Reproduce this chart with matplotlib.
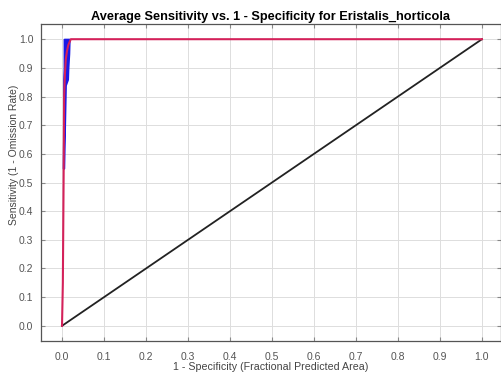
import matplotlib
matplotlib.use("Agg")
import matplotlib.pyplot as plt

# mean ROC curve (red)
mean_fpr = [0.0, 0.002, 0.004, 0.005, 0.007, 0.009, 0.012, 0.015, 0.021, 1.0]
mean_tpr = [0.0, 0.15, 0.55, 0.80, 0.88, 0.93, 0.96, 0.98, 1.0, 1.0]

# mean +/- one stddev band (blue)
band_tpr = [0.55, 0.70, 0.84, 0.86, 0.90, 0.95, 1.0]
band_left = [0.003, 0.004, 0.004, 0.004, 0.005, 0.005, 0.005]
band_right = [0.004, 0.006, 0.008, 0.013, 0.014, 0.016, 0.017]

# random prediction line
random_x = [0.0, 1.0]
random_y = [0.0, 1.0]

ticks = [0.0, 0.1, 0.2, 0.3, 0.4, 0.5, 0.6, 0.7, 0.8, 0.9, 1.0]

plt.rcParams["font.family"] = ["Liberation Sans", "DejaVu Sans"]

fig = plt.figure(figsize=(5.02, 3.74), dpi=100)
ax = fig.add_axes([0.0817, 0.0882, 0.916, 0.8476])

ax.fill_betweenx(band_tpr, band_left, band_right, color="#1a1ae6", linewidth=1.5,
                 edgecolor="#1a1ae6", zorder=2)
ax.plot(random_x, random_y, color="#222222", linewidth=1.3, zorder=3)
ax.plot(mean_fpr, mean_tpr, color="#d4215a", linewidth=1.5, zorder=4)

ax.set_xlim(-0.05, 1.045)
ax.set_ylim(-0.053, 1.053)
ax.set_xticks(ticks)
ax.set_yticks(ticks)
ax.set_xticklabels([f"{t:.1f}" for t in ticks])
ax.set_yticklabels([f"{t:.1f}" for t in ticks])
ax.tick_params(axis="both", labelsize=7.5, labelcolor="#555555", direction="in",
               length=3, color="#888888", top=True, right=True)
ax.tick_params(axis="x", pad=8)
ax.tick_params(axis="y", pad=5.5)
ax.grid(True, color="#dddddd", linewidth=0.7)
ax.set_axisbelow(True)
for spine in ax.spines.values():
    spine.set_color("#555555")
    spine.set_linewidth(0.9)

ax.set_title("Average Sensitivity vs. 1 - Specificity for Eristalis_horticola",
             fontsize=9.2, fontweight="bold", pad=3)
ax.set_xlabel("1 - Specificity (Fractional Predicted Area)", fontsize=7.7, color="#444444",
              labelpad=0)
ax.set_ylabel("Sensitivity (1 - Omission Rate)", fontsize=7.5, color="#444444")
ax.yaxis.set_label_coords(-0.047, 0.587)

fig.savefig("out.png", dpi=100)
